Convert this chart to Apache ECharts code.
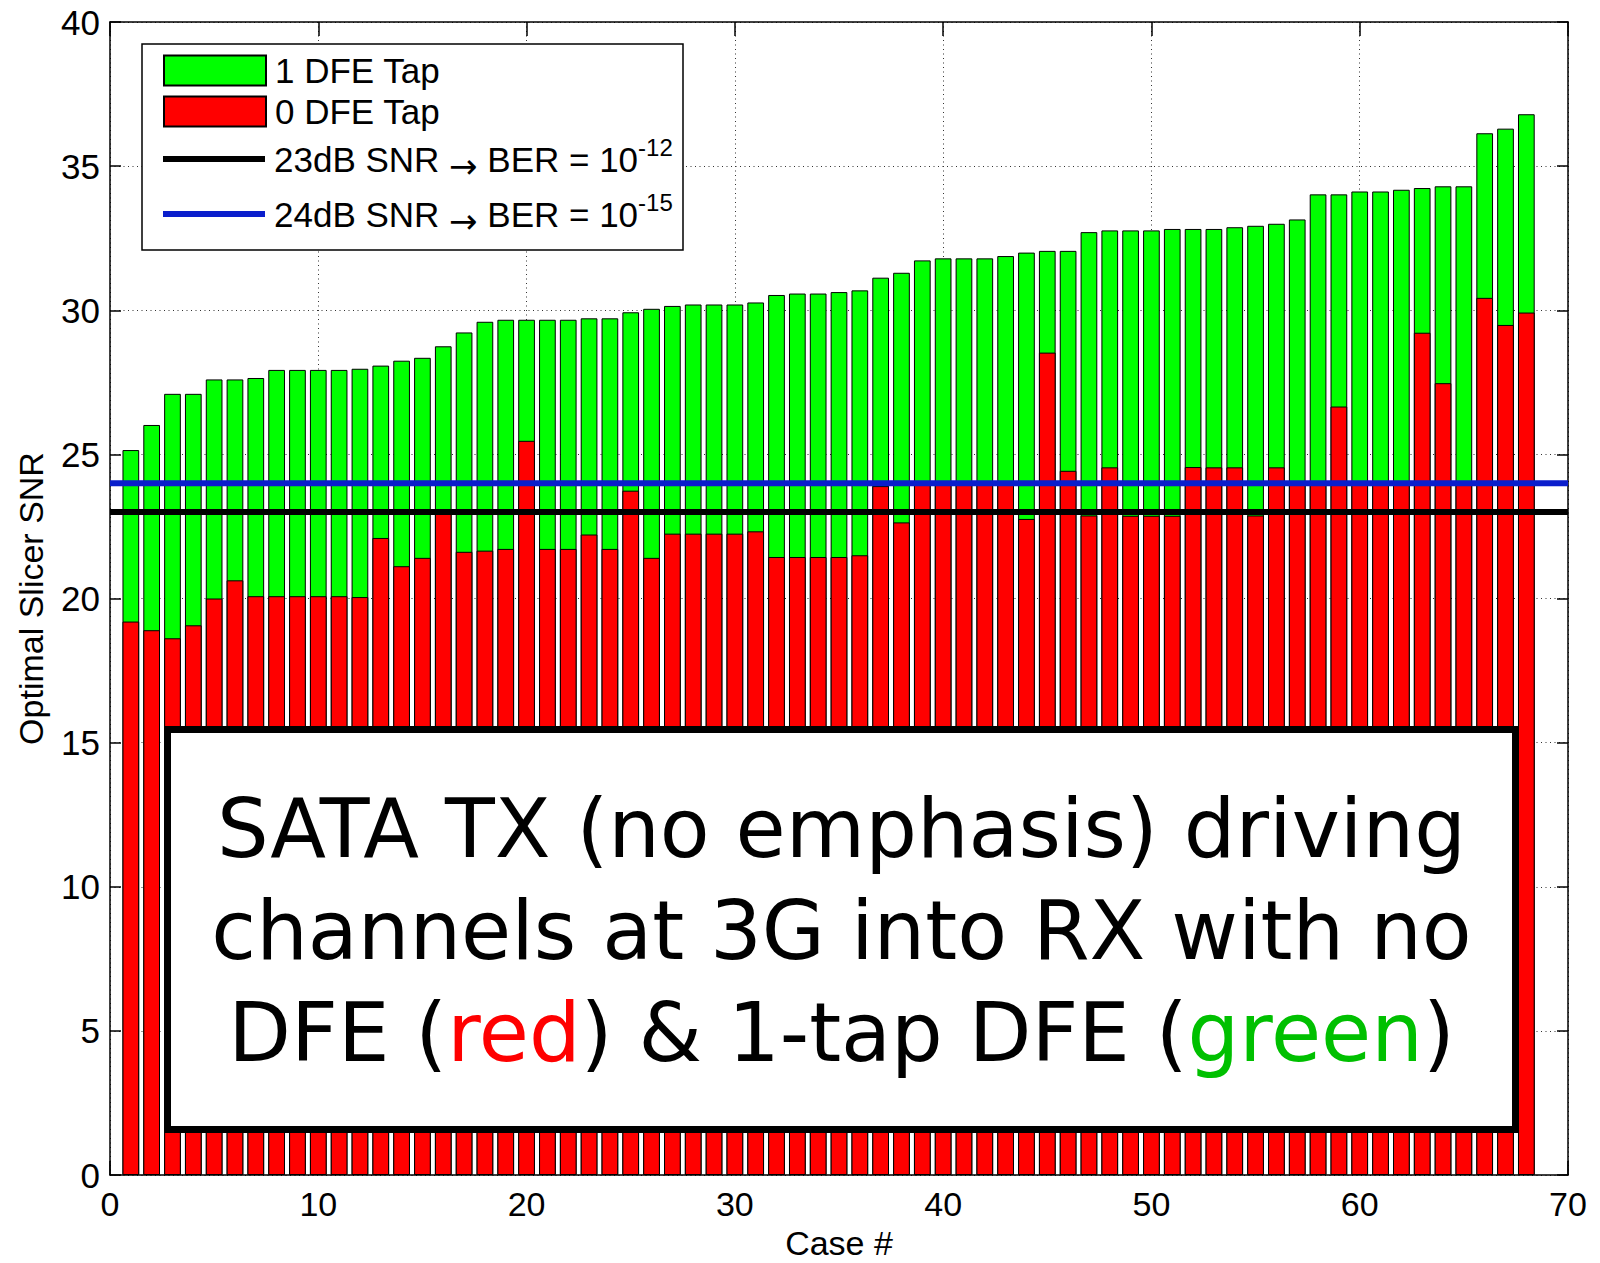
<!DOCTYPE html>
<html><head><meta charset="utf-8">
<script src="https://cdn.jsdelivr.net/npm/echarts@6/dist/echarts.min.js"></script>
<style>html,body{margin:0;padding:0;background:#fff}#c{width:1600px;height:1263px}</style>
</head><body><div id="c"></div>
<script>
// ---- data ----
const caseNo = [1,2,3,4,5,6,7,8,9,10,11,12,13,14,15,16,17,18,19,20,
  21,22,23,24,25,26,27,28,29,30,31,32,33,34,35,36,37,38,39,40,
  41,42,43,44,45,46,47,48,49,50,51,52,53,54,55,56,57,58,59,60,
  61,62,63,64,65,66,67,68];
// 1 DFE tap (green)
const oneTapSNR = [25.15,26.02,27.1,27.1,27.6,27.6,27.65,27.93,27.93,27.93,27.93,27.97,28.08,28.25,28.35,28.75,29.23,29.6,29.67,29.67,
  29.67,29.67,29.72,29.72,29.93,30.05,30.15,30.2,30.2,30.2,30.27,30.53,30.58,30.58,30.63,30.69,31.13,31.3,31.73,31.8,
  31.8,31.8,31.88,32.0,32.06,32.06,32.71,32.77,32.77,32.77,32.82,32.82,32.82,32.88,32.93,33.0,33.15,34.02,34.02,34.12,
  34.12,34.18,34.24,34.3,34.3,36.14,36.3,36.8];
// 0 DFE tap (red)
const zeroTapSNR = [19.2,18.9,18.62,19.07,20.0,20.63,20.08,20.08,20.08,20.08,20.08,20.05,22.1,21.12,21.41,23.0,21.62,21.66,21.72,25.47,
  21.72,21.72,22.22,21.72,23.74,21.41,22.25,22.25,22.25,22.25,22.33,21.44,21.44,21.44,21.44,21.5,23.9,22.64,24.0,24.0,
  24.0,24.0,24.0,22.76,28.53,24.43,22.88,24.55,22.87,22.87,22.87,24.56,24.55,24.55,22.88,24.55,24.0,24.0,26.66,24.0,
  24.0,24.0,29.22,27.47,24.0,30.43,29.49,29.92];
// threshold lines
const thresholdSNR = [23, 24];
const thresholdNames = ['23dB SNR \u2192 BER = 10^-12', '24dB SNR \u2192 BER = 10^-15'];
const barNames = ['1 DFE Tap', '0 DFE Tap'];
const xMin = 0, xMax = 70, yMin = 0, yMax = 40;
const noteLines = ['SATA TX (no emphasis) driving', 'channels at 3G into RX with no', 'DFE ({r|red}) & 1-tap DFE ({g|green})'];

const F = 'Liberation Sans, Arial, Helvetica, sans-serif';
const NF = 'DejaVu Sans, Verdana, sans-serif';
const chart = echarts.init(document.getElementById('c'), null, {renderer: 'svg'});

const axisLineStyle = {color: '#000', width: 1.5};
const gridLine = {show: true, lineStyle: {color: '#333', width: 1, type: [1, 3.5]}};

const option = {
  animation: false,
  backgroundColor: '#fff',
  grid: {left: 110, right: 32, top: 22, bottom: 88, containLabel: false, outerBoundsMode: 'none'},
  xAxis: [
    {type: 'value', min: xMin, max: xMax, interval: 10, position: 'bottom',
     name: 'Case #', nameLocation: 'middle', nameGap: 49,
     nameTextStyle: {fontFamily: F, fontSize: 34, color: '#000'},
     axisLine: {show: true, onZero: false, lineStyle: axisLineStyle},
     axisTick: {show: true, inside: true, length: 14, lineStyle: axisLineStyle},
     axisLabel: {fontFamily: F, fontSize: 34, color: '#000', margin: 12},
     splitLine: gridLine},
    {type: 'value', min: xMin, max: xMax, interval: 10, position: 'top',
     axisLine: {show: true, onZero: false, lineStyle: axisLineStyle},
     axisTick: {show: true, inside: true, length: 14, lineStyle: axisLineStyle},
     axisLabel: {show: false}, splitLine: {show: false}}
  ],
  yAxis: [
    {type: 'value', min: yMin, max: yMax, interval: 5, position: 'left',
     name: 'Optimal Slicer SNR', nameLocation: 'middle', nameGap: 62,
     nameTextStyle: {fontFamily: F, fontSize: 34, color: '#000'},
     axisLine: {show: true, onZero: false, lineStyle: axisLineStyle},
     axisTick: {show: true, inside: true, length: 11, lineStyle: axisLineStyle},
     axisLabel: {fontFamily: F, fontSize: 35, color: '#000', margin: 10},
     splitLine: gridLine},
    {type: 'value', min: yMin, max: yMax, interval: 5, position: 'right',
     axisLine: {show: true, onZero: false, lineStyle: axisLineStyle},
     axisTick: {show: true, inside: true, length: 11, lineStyle: axisLineStyle},
     axisLabel: {show: false}, splitLine: {show: false}}
  ],
  legend: [
    {data: barNames, orient: 'vertical', left: 163, top: 53, padding: 0,
     itemWidth: 102, itemHeight: 30, itemGap: 6, icon: 'rect', selectedMode: false,
     textStyle: {fontFamily: F, fontSize: 35, color: '#000', padding: [0, 0, 0, 4]}},
    {data: [
       {name: thresholdNames[0], itemStyle: {color: '#000', borderWidth: 0}},
       {name: thresholdNames[1], itemStyle: {color: '#0a1ecc', borderWidth: 0}}],
     orient: 'vertical', left: 163, top: 135, padding: 0,
     itemWidth: 102, itemHeight: 6, itemGap: 7, icon: 'rect', selectedMode: false,
     formatter: n => n.replace('\u2192', '{arr|\u2192}').replace(/\^(-\d+)/, '{sup|$1}'),
     textStyle: {fontFamily: F, fontSize: 35, color: '#000', lineHeight: 48, padding: [0, 0, 0, 4],
       rich: {sup: {fontFamily: F, fontSize: 24, lineHeight: 24, verticalAlign: 'top', color: '#000'},
              arr: {fontFamily: NF, fontSize: 34, lineHeight: 44, verticalAlign: 'bottom', color: '#000'}}}}
  ],
  graphic: {elements: [
    {type: 'rect', z: 3, silent: true, shape: {x: 142, y: 44, width: 541, height: 206},
     style: {fill: '#fff', stroke: '#000', lineWidth: 1.5}},
    {type: 'rect', z: 10, silent: true, shape: {x: 167.5, y: 729.5, width: 1348, height: 400},
     style: {fill: '#fff', stroke: '#000', lineWidth: 7}},
    {type: 'text', z: 11, silent: true, x: 841.5, y: 930,
     style: {text: noteLines.join('\n'), fontFamily: NF, fontSize: 81.5, fill: '#000',
       align: 'center', verticalAlign: 'middle', lineHeight: 102,
       rich: {r: {fill: '#ff0000', fontFamily: NF, fontSize: 81.5, lineHeight: 102},
              g: {fill: '#00c000', fontFamily: NF, fontSize: 81.5, lineHeight: 102}}}}
  ]},
  series: [
    {type: 'bar', name: barNames[0], xAxisIndex: 0, yAxisIndex: 0, silent: true,
     data: caseNo.map((c, i) => [c, oneTapSNR[i]]),
     barWidth: 16.7, barGap: '-100%',
     itemStyle: {color: '#00ff00', borderColor: '#000', borderWidth: 1}},
    {type: 'bar', name: barNames[1], xAxisIndex: 0, yAxisIndex: 0, silent: true,
     data: caseNo.map((c, i) => [c, zeroTapSNR[i]]),
     barWidth: 16.7, barGap: '-100%',
     itemStyle: {color: '#ff0000', borderColor: '#000', borderWidth: 1}},
    {type: 'line', name: thresholdNames[0], silent: true, symbol: 'none', z: 5,
     data: [[xMin, thresholdSNR[0]], [xMax, thresholdSNR[0]]],
     lineStyle: {color: '#000', width: 6}, itemStyle: {color: '#000'}},
    {type: 'line', name: thresholdNames[1], silent: true, symbol: 'none', z: 5,
     data: [[xMin, thresholdSNR[1]], [xMax, thresholdSNR[1]]],
     lineStyle: {color: '#0a1ecc', width: 6}, itemStyle: {color: '#0a1ecc'}}
  ]
};
chart.setOption(option);
</script></body></html>
